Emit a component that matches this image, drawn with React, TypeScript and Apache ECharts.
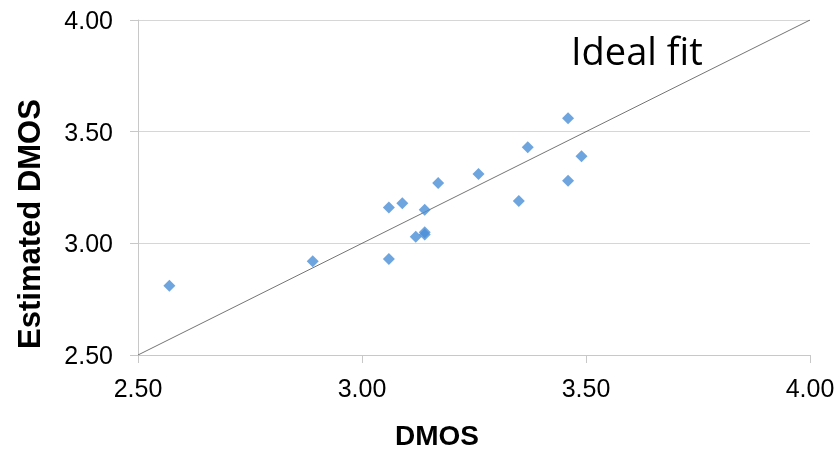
import React, { useEffect, useRef } from "react";
import * as echarts from "echarts";

const dmos = [2.57, 2.89, 3.06, 3.09, 3.14, 3.17, 3.26, 3.12, 3.14, 3.14, 3.06, 3.46, 3.37, 3.49, 3.46, 3.35];
const estimated = [2.81, 2.92, 3.16, 3.18, 3.15, 3.27, 3.31, 3.03, 3.05, 3.04, 2.93, 3.56, 3.43, 3.39, 3.28, 3.19];
const idealFit = [
  [2.5, 2.5],
  [4.0, 4.0],
];
const axisMin = 2.5;
const axisMax = 4.0;
const axisStep = 0.5;

export default function App() {
  const ref = useRef<HTMLDivElement>(null);
  useEffect(() => {
    if (!ref.current) return;
    const chart = echarts.init(ref.current, undefined, { renderer: "svg" });
    const points = dmos.map((x, i) => [x, estimated[i]]);
    const axisCommon = {
      type: "value" as const,
      min: axisMin,
      max: axisMax,
      interval: axisStep,
      axisLine: { show: true, lineStyle: { color: "#c8c8c8", width: 1 } },
      axisTick: { show: true, length: 8, lineStyle: { color: "#c8c8c8" } },
      axisLabel: {
        color: "#000",
        fontSize: 25,
        fontFamily: "Liberation Sans, Arial, sans-serif",
        formatter: (v: number) => v.toFixed(2),
      },
    };
    chart.setOption({
      animation: false,
      grid: { left: 138, right: 29, top: 20, bottom: 104, containLabel: false },
      xAxis: {
        ...axisCommon,
        splitLine: { show: false },
        axisLabel: { ...axisCommon.axisLabel, margin: 20 },
      },
      yAxis: {
        ...axisCommon,
        splitLine: { show: true, lineStyle: { color: "#d6d6d6", width: 1 } },
        axisLabel: { ...axisCommon.axisLabel, margin: 25 },
      },
      series: [
        {
          type: "line",
          data: idealFit,
          showSymbol: false,
          symbol: "none",
          lineStyle: { color: "#505050", width: 0.8 },
          silent: true,
          z: 1,
        },
        {
          type: "scatter",
          data: points,
          symbol: "diamond",
          symbolSize: 12,
          itemStyle: { color: "#4a8fd7" },
          z: 3,
        },
      ],
      graphic: [
        {
          type: "text",
          left: 571,
          top: 31,
          style: {
            text: "Ideal fit",
            fill: "#000",
            fontSize: 38,
            fontFamily: "Open Sans, Noto Sans, sans-serif",
          },
        },
        {
          type: "text",
          x: 437,
          y: 435,
          style: {
            text: "DMOS",
            fill: "#000",
            fontSize: 28,
            fontWeight: "bold",
            fontFamily: "Liberation Sans, Arial, sans-serif",
            align: "center",
            verticalAlign: "middle",
          },
        },
        {
          type: "text",
          x: 29,
          y: 224,
          rotation: Math.PI / 2,
          style: {
            text: "Estimated DMOS",
            fill: "#000",
            fontSize: 31,
            fontWeight: "bold",
            fontFamily: "Liberation Sans, Arial, sans-serif",
            align: "center",
            verticalAlign: "middle",
          },
        },
      ],
    });
    return () => chart.dispose();
  }, []);
  return (
    <div
      ref={ref}
      style={{ position: "fixed", left: 0, top: 0, width: 839, height: 459 }}
    />
  );
}
